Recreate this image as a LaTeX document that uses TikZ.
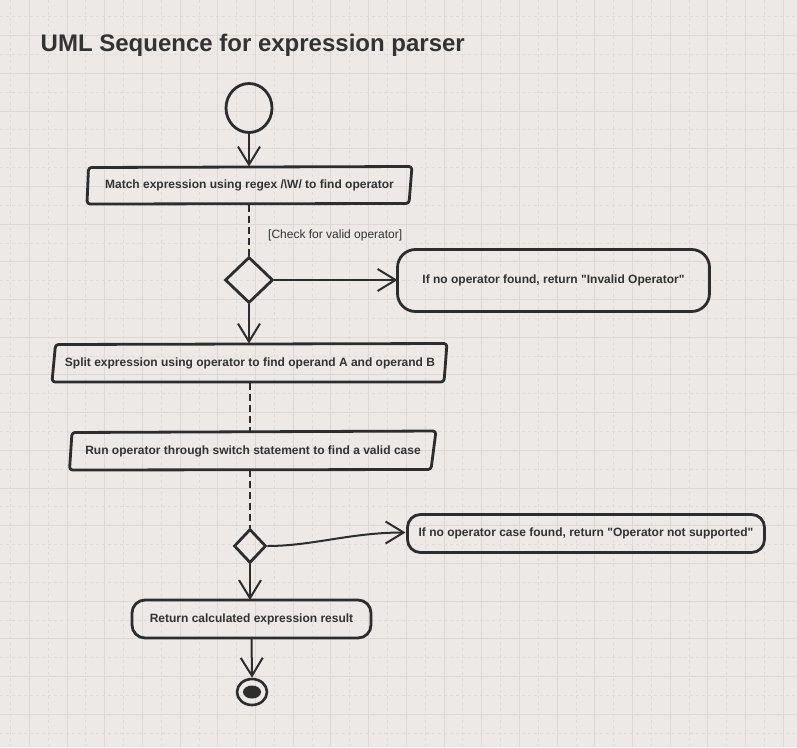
\documentclass[tikz,border=0pt]{standalone}
\usepackage{fontspec}
\setmainfont{Liberation Sans}
\newfontfamily\plainls[Ligatures=ResetAll]{Liberation Sans}
\usetikzlibrary{arrows.meta,shapes.geometric}
\definecolor{bg}{HTML}{ECE9E6}
\definecolor{gridsolid}{HTML}{DCD8D6}
\definecolor{griddash}{HTML}{DFDCD9}
\definecolor{ink}{HTML}{2D2D2D}
\definecolor{txt}{HTML}{333333}
\newcommand{\qd}{{\plainls\symbol{34}}}
\begin{document}
\begin{tikzpicture}[x=1pt,y=-1pt,
  lbl/.style={font=\bfseries\fontsize{12}{14}\selectfont, text=txt, inner sep=0pt, outer sep=0pt},
  sk/.style={draw=ink, line width=2.8pt, line join=round, line cap=round},
  rbox/.style={lbl, draw=ink, line width=2.8pt, rounded corners=15pt},
  conn/.style={draw=ink, line width=2pt, -{Straight Barb[length=18pt,width=22pt,line width=2pt]}},
  dconn/.style={draw=ink, line width=2.2pt, dash pattern=on 7pt off 4pt},
  gs/.style={draw=gridsolid, line width=0.9pt},
  gd/.style={draw=griddash, line width=0.9pt, dash pattern=on 3pt off 3pt},
]
\useasboundingbox (0,0) rectangle (797,747);
\fill[bg] (0,0) rectangle (797,747);
% grid
\foreach \k in {0,...,20} {
  \draw[gd] ({10.45+37.7*\k},0) -- ({10.45+37.7*\k},747);
  \draw[gs] ({29.3+37.7*\k},0) -- ({29.3+37.7*\k},747);
}
\foreach \k in {0,...,19} {
  \draw[gd] (0,{16.75+37.7*\k}) -- (797,{16.75+37.7*\k});
}
\foreach \k in {0,...,18} {
  \draw[gs] (0,{35.6+37.7*\k}) -- (797,{35.6+37.7*\k});
}

% title
\node[anchor=base west, font=\bfseries\fontsize{24}{28}\selectfont, text=txt, inner sep=0pt] (title) at (40.5,51) {UML Sequence for expression parser};

% start
\node[ellipse, draw=ink, line width=2.8pt, minimum width=46, minimum height=49, inner sep=0pt] (start) at (249,108) {};

% box 1
\node[lbl, minimum width=325, minimum height=38] (b1) at (249.5,185.5) {Match expression using regex /\textbackslash W/ to find operator};
\draw[sk, rounded corners=3pt] ([shift={(1.5,1)}]b1.north west) -- ([shift={(0,0)}]b1.north east) -- ([shift={(-3,-1)}]b1.south east) -- ([shift={(0,-0.5)}]b1.south west) -- cycle;

\node[font=\fontsize{12}{14}\selectfont, text=txt, anchor=west, inner sep=0pt] (lab) at (268,235) {[Check for valid operator]};

% decision 1
\node[diamond, draw=ink, line width=2.8pt, minimum width=48, minimum height=46, inner sep=0pt] (d1) at (249,280) {};

% box 2
\node[rbox, rounded corners=18pt, minimum width=312, minimum height=62] (b2) at (553.5,280.5) {If no operator found, return \qd Invalid Operator\qd};

% box 3
\node[lbl, minimum width=394, minimum height=39] (b3) at (250,363) {Split expression using operator to find operand A and operand B};
\draw[sk, rounded corners=3pt] ([shift={(2.5,1)}]b3.north west) -- ([shift={(0,0)}]b3.north east) -- ([shift={(-3,-0.5)}]b3.south east) -- ([shift={(-1,-0.5)}]b3.south west) -- cycle;

% box 4
\node[lbl, minimum width=366, minimum height=38] (b4) at (253,451) {Run operator through switch statement to find a valid case};
\draw[sk, rounded corners=3pt] ([shift={(2,0.5)}]b4.north west) -- ([shift={(0,-1)}]b4.north east) -- ([shift={(-5,-0.5)}]b4.south east) -- ([shift={(-0.5,0)}]b4.south west) -- cycle;

% decision 2
\node[diamond, draw=ink, line width=2.8pt, minimum width=32, minimum height=34, inner sep=0pt] (d2) at (250,546) {};

% box 5
\node[rbox, rounded corners=13pt, minimum width=357, minimum height=38] (b5) at (586,533.5) {If no operator case found, return \qd Operator not supported\qd};

% box 6
\node[rbox, rounded corners=13pt, minimum width=239, minimum height=38] (b6) at (251.5,619) {Return calculated expression result};

% end
\node[ellipse, draw=ink, line width=2.6pt, minimum width=30, minimum height=26, inner sep=0pt] (endc) at (252,692) {};
\node[ellipse, fill=ink, minimum width=18, minimum height=13, inner sep=0pt] (endin) at (endc.center) {};

% connectors
\draw[conn] (start.south) -- (start.south |- b1.north);
\draw[dconn] (d1.north |- b1.south) -- (d1.north);
\draw[conn] (d1.east) -- (d1.east -| b2.west);
\draw[conn] (d1.south) -- (d1.south |- b3.north);
\draw[dconn] (b3.south) -- (b3.south |- b4.north);
\draw[dconn] (d2.north |- b4.south) -- (d2.north);
\draw[conn] (d2.east) .. controls +(45,0) and +(-55,0) .. ([xshift=-2pt,yshift=1pt]b5.west);
\draw[conn] (d2.south) -- (d2.south |- b6.north);
\draw[conn] (b6.south) -- (endc.north);
\end{tikzpicture}
\end{document}
